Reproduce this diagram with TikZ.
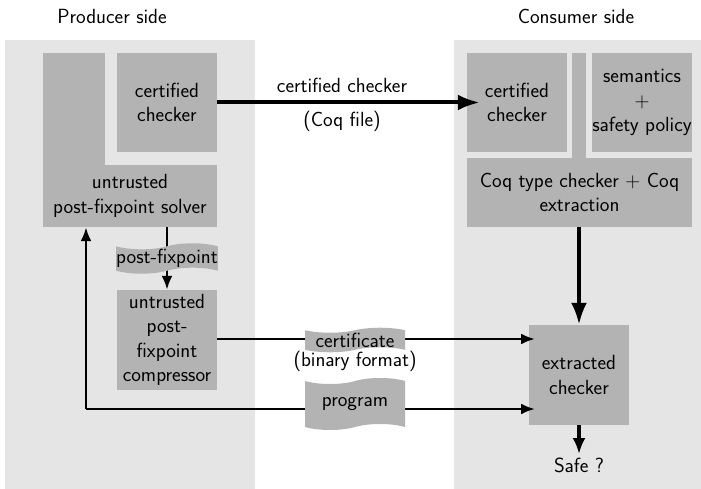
\documentclass[tikz,border=0pt]{standalone}
\usetikzlibrary{shapes.symbols,arrows.meta}
\definecolor{panel}{HTML}{E5E5E5}
\definecolor{boxc}{HTML}{B3B3B3}
\begin{document}
\begin{tikzpicture}[x=1pt,y=-1pt,
  every node/.style={font=\sffamily\fontsize{20.5}{24.5}\selectfont},
  box/.style={fill=boxc,inner sep=0pt,align=center,minimum width=100pt,minimum height=99pt},
  tag/.style={tape,fill=boxc,inner sep=0pt,minimum width=100pt,tape bend height=6pt},
  thickarrow/.style={line width=4pt,-{Latex[length=22pt,width=16pt]}},
  medarrow/.style={line width=2.7pt,-{Latex[length=14pt,width=11pt]}},
  medline/.style={line width=2.7pt}]
\useasboundingbox (0,0) rectangle (701,489);
% panels
\fill[panel] (5,40) rectangle (255,489);
\fill[panel] (454,40) rectangle (701,489);
\node (prod) at (112,16) {Producer side};
\node (cons) at (576,16) {Consumer side};
% producer side
\fill[boxc] (43,53) rectangle (105,166);
\node[box,minimum width=174pt,minimum height=62pt] (solver) at (130,196) {untrusted\\post-fixpoint solver};
\node[box] (cc1) at (167,102.5) {certified\\checker};
\node[box,minimum height=100pt] (comp) at (167,340) {untrusted\\post-\\fixpoint\\compressor};
% consumer side
\node[box] (cc2) at (517,102.5) {certified\\checker};
\node[box] (sem) at (642,102.5) {semantics\\$+$\\safety policy};
\node[box,minimum width=225pt,minimum height=69pt] (coq) at (579.5,192.5) {Coq type checker $+$ Coq\\extraction};
\fill[boxc] (572,53) rectangle (586,159);
\node[box,minimum height=100pt] (ext) at (579,375) {extracted\\checker};
\node (safe) at (579,465) {Safe ?};
% connectors
\draw[thickarrow,shorten >=-13pt] (cc1.east) -- (cc2.west)
  node[midway,above=5pt] (lab1) {certified checker}
  node[midway,below=3pt] (lab2) {(Coq file)};
\draw[thickarrow] (coq.south -| ext.north) -- (ext.north);
\draw[thickarrow,-{Latex[length=16pt,width=13pt]}] (ext.south) -- (safe.north);
\draw[medarrow] (comp.north |- solver.south) -- (comp.north);
\node[tag,minimum height=27pt] (pf) at (167,258.5) {post-fixpoint};
\coordinate (cin) at (529,339);
\coordinate (pin) at (529,409);
\coordinate (loop) at (86,409);
\draw[medarrow,shorten >=-6pt] (comp.east |- cin) -- (cin);
\node[tag,minimum height=24pt,tape bend height=5pt] (cert) at (355,340) {certificate};
\node (bin) at (355,361) {(binary format)};
\draw[medline] (pin) -- (loop);
\draw[medarrow,shorten >=-6pt] (loop) -- (pin);
\draw[medarrow] (loop) -- (loop |- solver.south);
\node[tag,minimum height=52pt] (prog) at (355,404) {program};
\end{tikzpicture}
\end{document}
